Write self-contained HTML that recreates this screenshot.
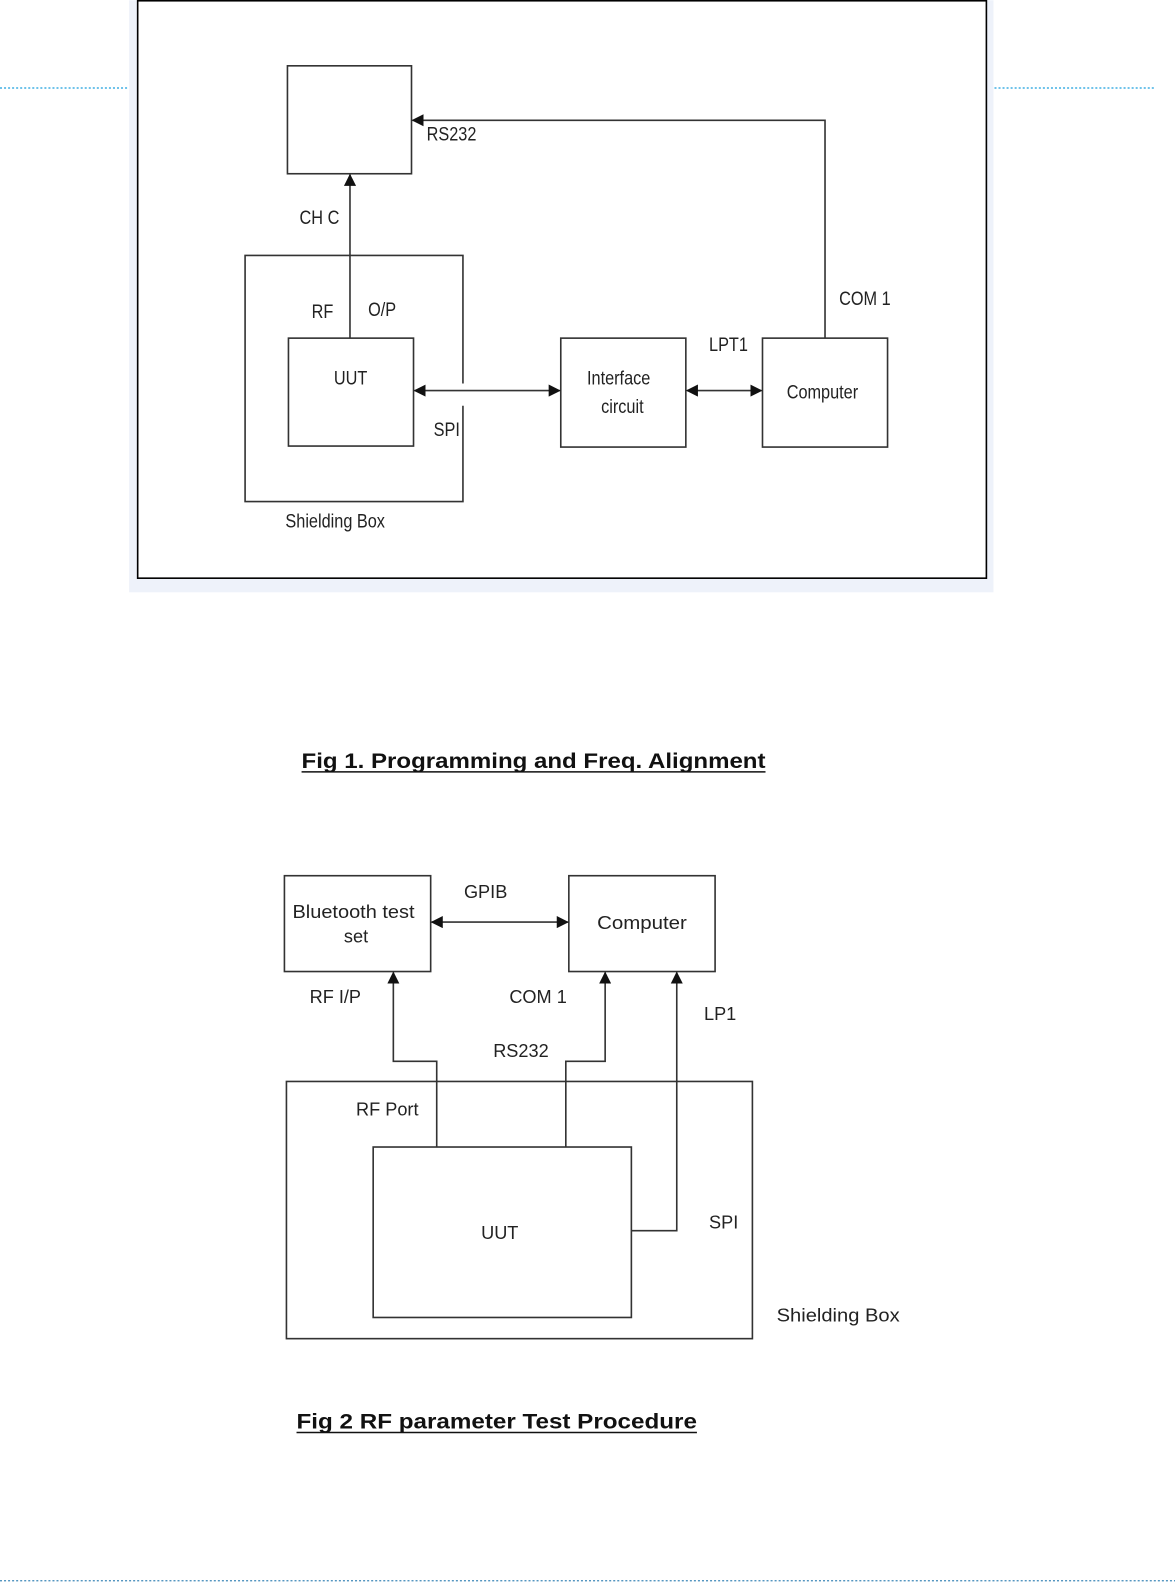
<!DOCTYPE html>
<html><head><meta charset="utf-8"><style>
html,body{margin:0;padding:0;background:#fff;}
svg{display:block;}
text{font-family:"Liberation Sans",Arial,sans-serif;fill:#222;}
</style></head><body>
<svg width="1175" height="1584" viewBox="0 0 1165 1570" xmlns="http://www.w3.org/2000/svg">
<defs>
<marker id="a" markerWidth="12" markerHeight="12" refX="11" refY="6" orient="auto" markerUnits="userSpaceOnUse">
<path d="M0,0 L12,6 L0,12 z" fill="#111"/></marker>
<marker id="s" markerWidth="12" markerHeight="12" refX="1" refY="6" orient="auto" markerUnits="userSpaceOnUse">
<path d="M12,0 L0,6 L12,12 z" fill="#111"/></marker>
</defs>
<rect x="128" y="0" width="857" height="587" fill="#eef2fa"/>
<rect x="136.5" y="0.5" width="841.5" height="572.5" fill="#fff" stroke="#000" stroke-width="1.6"/>
<line x1="0" y1="87" x2="127" y2="87" stroke="#1a9fde" stroke-width="1.2" stroke-dasharray="2,2"/>
<line x1="986" y1="87" x2="1145" y2="87" stroke="#1a9fde" stroke-width="1.2" stroke-dasharray="2,2"/>
<line x1="0" y1="1567" x2="1165" y2="1567" stroke="#3d87b8" stroke-width="1.2" stroke-dasharray="2,2"/>

<g fill="none" stroke="#333" stroke-width="1.6">
<rect x="285" y="65" width="123" height="107"/>
<path d="M818,335 V119 H409" marker-end="url(#a)"/>
<path d="M347,335 V173" marker-end="url(#a)"/>
<path d="M459,380 V253 H243 V497 H459 V402"/>
<rect x="286" y="335" width="124" height="107"/>
<rect x="556" y="335" width="124" height="108"/>
<rect x="756" y="335" width="124" height="108"/>
<line x1="411" y1="387" x2="555" y2="387" marker-start="url(#s)" marker-end="url(#a)"/>
<line x1="681" y1="387" x2="755" y2="387" marker-start="url(#s)" marker-end="url(#a)"/>
</g>
<g font-size="19">
<text x="423" y="139" transform="translate(423 0) scale(0.85 1) translate(-423 0)">RS232</text>
<text x="297" y="222" transform="translate(297 0) scale(0.85 1) translate(-297 0)">CH C</text>
<text x="309" y="315" transform="translate(309 0) scale(0.85 1) translate(-309 0)">RF</text>
<text x="365" y="313" transform="translate(365 0) scale(0.85 1) translate(-365 0)">O/P</text>
<text x="331" y="381" transform="translate(331 0) scale(0.85 1) translate(-331 0)">UUT</text>
<text x="430" y="432" transform="translate(430 0) scale(0.85 1) translate(-430 0)">SPI</text>
<text x="582" y="381" transform="translate(582 0) scale(0.85 1) translate(-582 0)">Interface</text>
<text x="596" y="409" transform="translate(596 0) scale(0.85 1) translate(-596 0)">circuit</text>
<text x="703" y="348" transform="translate(703 0) scale(0.85 1) translate(-703 0)">LPT1</text>
<text x="780" y="395" transform="translate(780 0) scale(0.85 1) translate(-780 0)">Computer</text>
<text x="832" y="302" transform="translate(832 0) scale(0.85 1) translate(-832 0)">COM 1</text>
<text x="283" y="523" transform="translate(283 0) scale(0.85 1) translate(-283 0)">Shielding Box</text>
</g>

<text x="299" y="761" font-size="21" font-weight="bold" textLength="460" lengthAdjust="spacingAndGlyphs" style="fill:#111">Fig 1. Programming and Freq. Alignment</text>
<line x1="299" y1="765" x2="759" y2="765" stroke="#111" stroke-width="1.5"/>

<g fill="none" stroke="#333" stroke-width="1.6">
<rect x="282" y="868" width="145" height="95"/>
<rect x="564" y="868" width="145" height="95"/>
<line x1="428" y1="914" x2="563" y2="914" marker-start="url(#s)" marker-end="url(#a)"/>
<rect x="284" y="1072" width="462" height="255"/>
<rect x="370" y="1137" width="256" height="169" fill="#fff"/>
<path d="M433,1137 V1052 H390 V964" marker-end="url(#a)"/>
<path d="M561,1137 V1052 H600 V964" marker-end="url(#a)"/>
<path d="M626,1220 H671 V964" marker-end="url(#a)"/>
</g>
<g font-size="18">
<text x="290" y="910" textLength="121" lengthAdjust="spacingAndGlyphs">Bluetooth test</text>
<text x="341" y="934">set</text>
<text x="460" y="890">GPIB</text>
<text x="592" y="921" textLength="89" lengthAdjust="spacingAndGlyphs">Computer</text>
<text x="307" y="994">RF I/P</text>
<text x="505" y="994">COM 1</text>
<text x="698" y="1011">LP1</text>
<text x="489" y="1048">RS232</text>
<text x="353" y="1106">RF  Port</text>
<text x="477" y="1228">UUT</text>
<text x="703" y="1218">SPI</text>
<text x="770" y="1310" textLength="122" lengthAdjust="spacingAndGlyphs">Shielding Box</text>
</g>
<text x="294" y="1416" font-size="21" font-weight="bold" textLength="397" lengthAdjust="spacingAndGlyphs" style="fill:#111">Fig 2 RF parameter Test Procedure</text>
<line x1="294" y1="1420" x2="691" y2="1420" stroke="#111" stroke-width="1.5"/>
</svg>
</body></html>
